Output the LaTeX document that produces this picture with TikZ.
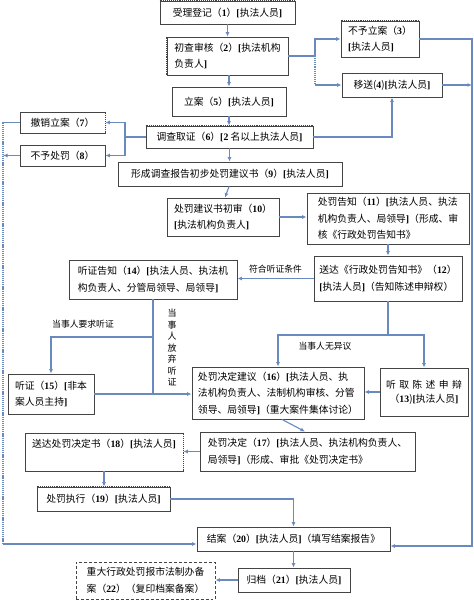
\documentclass[tikz,border=0pt]{standalone}
\usepackage{fontspec}
\setmainfont{Noto Sans CJK SC}
\newfontfamily\numf{Liberation Serif}
\usetikzlibrary{arrows.meta,calc}
\newcommand\bb[1]{{\numf\bfseries #1}}
\definecolor{lnc}{RGB}{105,138,190}
\definecolor{bdc}{RGB}{68,68,68}
\begin{document}
\begin{tikzpicture}[x=1bp,y=-1bp,
  box/.style={draw=bdc, line width=0.9bp, inner sep=0pt, align=left, font=\fontsize{9.8bp}{16.5bp}\selectfont},
  conn/.style={draw=lnc, line width=1.1bp},
  arr/.style={conn, -{Latex[length=4.5bp,width=4bp]}},
  lab/.style={font=\fontsize{8.8bp}{11bp}\selectfont, inner sep=0pt},
  dotside/.style={bdc, densely dotted, line width=0.9bp},
  wipe/.style={white, line width=1.4bp}]
\fill[white] (0,0) rectangle (474,602);
\useasboundingbox (0,0) rectangle (474,602);

% boxes
\node[box, minimum width=135bp, minimum height=23bp] (b1) at (227.5,12.5) {受理登记（\bb{1}）\bb{[}执法人员\bb{]}};
\node[box, minimum width=121bp, minimum height=38bp] (b2) at (227.5,56) {初查审核（\bb{2}）\bb{[}执法机构\\负责人\bb{]}};
\node[box, minimum width=78bp, minimum height=36bp] (b3) at (380,39) {不予立案（\bb{3}）\\\bb{[}执法人员\bb{]}};
\node[box, minimum width=100bp, minimum height=24bp] (b4) at (392,85) {移送(\bb{4})\bb{[}执法人员\bb{]}};
\node[box, minimum width=114bp, minimum height=29bp] (b5) at (229,101.5) {立案（\bb{5}）\bb{[}执法人员\bb{]}};
\node[box, minimum width=167bp, minimum height=22bp] (b6) at (229.5,137) {调查取证（\bb{6}）\bb{[2} 名以上执法人员\bb{]}};
\node[box, minimum width=85bp, minimum height=21bp] (b7) at (62.5,122.5) {撤销立案（\bb{7}）};
\node[box, minimum width=85bp, minimum height=21bp] (b8) at (62.5,155.5) {不予处罚（\bb{8}）};
\node[box, minimum width=224bp, minimum height=24bp] (b9) at (230,174) {形成调查报告初步处罚建议书（\bb{9}）\bb{[}执法人员\bb{]}};
\node[box, minimum width=112bp, minimum height=38bp] (b10) at (223,217) {处罚建议书初审（\bb{10}）\\\bb{[}执法机构负责人\bb{]}};
\node[box, minimum width=162bp, minimum height=51bp] (b11) at (388,218.5) {处罚告知（\bb{11}）\bb{[}执法人员、执法\\机构负责人、局领导\bb{]}（形成、审\\核《行政处罚告知书》};
\node[box, minimum width=148bp, minimum height=45bp] (b12) at (388,278.5) {送达《行政处罚告知书》（\bb{12}）\\\bb{[}执法人员\bb{]}（告知陈述申辩权）};
\node[box, minimum width=168bp, minimum height=39bp] (b14) at (153,279.5) {听证告知（\bb{14}）\bb{[}执法人员、执法机\\构负责人、分管局领导、局领导\bb{]}};
\node[box, minimum width=86bp, minimum height=40bp] (b15) at (51,394) {听证（\bb{15}）\bb{[}非本\\案人员主持\bb{]}};
\node[box, minimum width=172bp, minimum height=52bp] (b16) at (278,393) {处罚决定建议（\bb{16}）\bb{[}执法人员、执\\法机构负责人、法制机构审核、分管\\领导、局领导\bb{]}（重大案件集体讨论）};
\node[box, align=center, font=\fontsize{9.8bp}{14bp}\selectfont, minimum width=88bp, minimum height=48bp] (b13) at (424,392) {听\hspace{3.4bp}取\hspace{3.4bp}陈\hspace{3.4bp}述\hspace{3.4bp}申\hspace{3.4bp}辩\\（\bb{13})\bb{[}执法人员\bb{]}};
\node[box, minimum width=215bp, minimum height=39bp] (b17) at (307.5,451.5) {处罚决定（\bb{17}）\bb{[}执法人员、执法机构负责人、\\局领导\bb{]}（形成、审批《处罚决定书》};
\node[box, minimum width=158bp, minimum height=38bp] (b18) at (104,452) {送达处罚决定书（\bb{18}）\bb{[}执法人员\bb{]}\\\mbox{}};
\node[box, minimum width=133bp, minimum height=24bp] (b19) at (103.5,499) {处罚执行（\bb{19}）\bb{[}执法人员\bb{]}};
\node[box, minimum width=193bp, minimum height=24bp] (b20) at (293.5,539) {结案（\bb{20}）\bb{[}执法人员\bb{]}（填写结案报告》};
\node[box, minimum width=112bp, minimum height=24bp] (b21) at (294,580) {归档（\bb{21}）\bb{[}执法人员\bb{]}};
\node[box, densely dashed, minimum width=139bp, minimum height=37bp] (b22) at (145.5,580.5) {重大行政处罚报市法制办备\\案（\bb{22}）（复印档案备案）};

% dotted sides
\draw[wipe] (b1.north west) -- (b1.north east);
\draw[dotside] (b1.north west) -- (b1.north east);
\draw[wipe] (b2.north west) -- (b2.south west);
\draw[dotside] (b2.north west) -- (b2.south west);
\draw[wipe] (b3.north west) -- (b3.north east);
\draw[dotside] (b3.north west) -- (b3.north east);
\draw[wipe] (b6.north west) -- (b6.north east);
\draw[dotside] (b6.north west) -- (b6.north east);
\draw[wipe] (b7.north east) -- (b7.south east);
\draw[dotside] (b7.north east) -- (b7.south east);
\draw[wipe] (b18.north east) -- (b18.south east);
\draw[dotside] (b18.north east) -- (b18.south east);
\draw[wipe] (b19.north west) -- (b19.north east);
\draw[dotside] (b19.north west) -- (b19.north east);

% coordinates
\coordinate (j1) at (315,56);
\coordinate (rt) at (472,39);
\coordinate (rb) at (472,546);
\coordinate (j2) at (125,137);
\coordinate (lt) at (3,122.5);
\coordinate (lb) at (3,544);
\coordinate (j3) at (153,394);
\coordinate (j4) at (153,337);
\coordinate (j5) at (388,335);

% connectors
\draw[arr] (b1.south) -- (b2.north);
\draw[arr] (b5.north |- b2.south) -- (b5.north);
\draw[conn] (b2.east) -- (j1);
\draw[arr] (j1) |- (b3.west);
\draw[conn, densely dotted] (j1) -- (j1 |- b4.west);
\draw[arr] (j1 |- b4.west) -- (b4.west);
\draw[arr] (b3.east) -- (rt) -- (rb) -- (b20.east |- rb);
\draw[arr] (b4.east) -- (b4.east -| rt);
\draw[arr] (b6.east) -| (b4.south);
\draw[arr] (b5.south) -- (b5.south |- b6.north);
\draw[conn] (b6.west) -- (j2);
\draw[arr] (j2) |- (b7.east);
\draw[arr] (j2) |- (b8.east);
\draw[conn] (b7.west) -- (lt);
\draw[conn, dash pattern=on 1.2bp off 0.9bp] (lt) -- (lb);
\draw[arr] (lb) -- (b20.west |- lb);
\draw[arr] (b8.west) -- (b8.west -| lt);
\draw[arr] (b6.south) -- (b6.south |- b9.north);
\draw[arr] ([xshift=-1bp]b9.south) -- ([xshift=2bp]b10.north);
\draw[arr] (b10.east) -- (b10.east -| b11.west);
\draw[arr] (b11.south) -- (b12.north);
\draw[arr] (b12.west) -- (b12.west -| b14.east) node[lab, midway, above=5bp] (l1) {符合听证条件};
\draw[conn] (b14.south) -- (j3);
\draw[arr] (j4) -| (b15.north);
\draw[arr] (b15.east) -- (b15.east -| b16.west);
\node[lab] (l2) at (83,324) {当事人要求听证};
\node[lab, align=center, font=\fontsize{9bp}{11.5bp}\selectfont] (l3) at (172,347.5) {当\\事\\人\\放\\弃\\听\\证};
\draw[conn] (b12.south) -- (j5);
\draw[arr] (j5) -| (b13.north);
\draw[arr] (j5) -| (b16.north);
\node[lab] (l4) at (325,346) {当事人无异议};
\draw[arr] (b13.west) -- (b13.west -| b16.east);
\draw[arr] ([xshift=4bp]b16.south) -- ([xshift=-2.5bp]b17.north);
\draw[arr] (b17.west) -- (b17.west -| b18.east);
\draw[arr] (b18.south) -- (b18.south |- b19.north);
\draw[arr] (b19.east) -| (b20.north);
\draw[arr] (b20.south) -- (b20.south |- b21.north);
\draw[arr] (b21.west) -- (b21.west -| b22.east);
\end{tikzpicture}
\end{document}
